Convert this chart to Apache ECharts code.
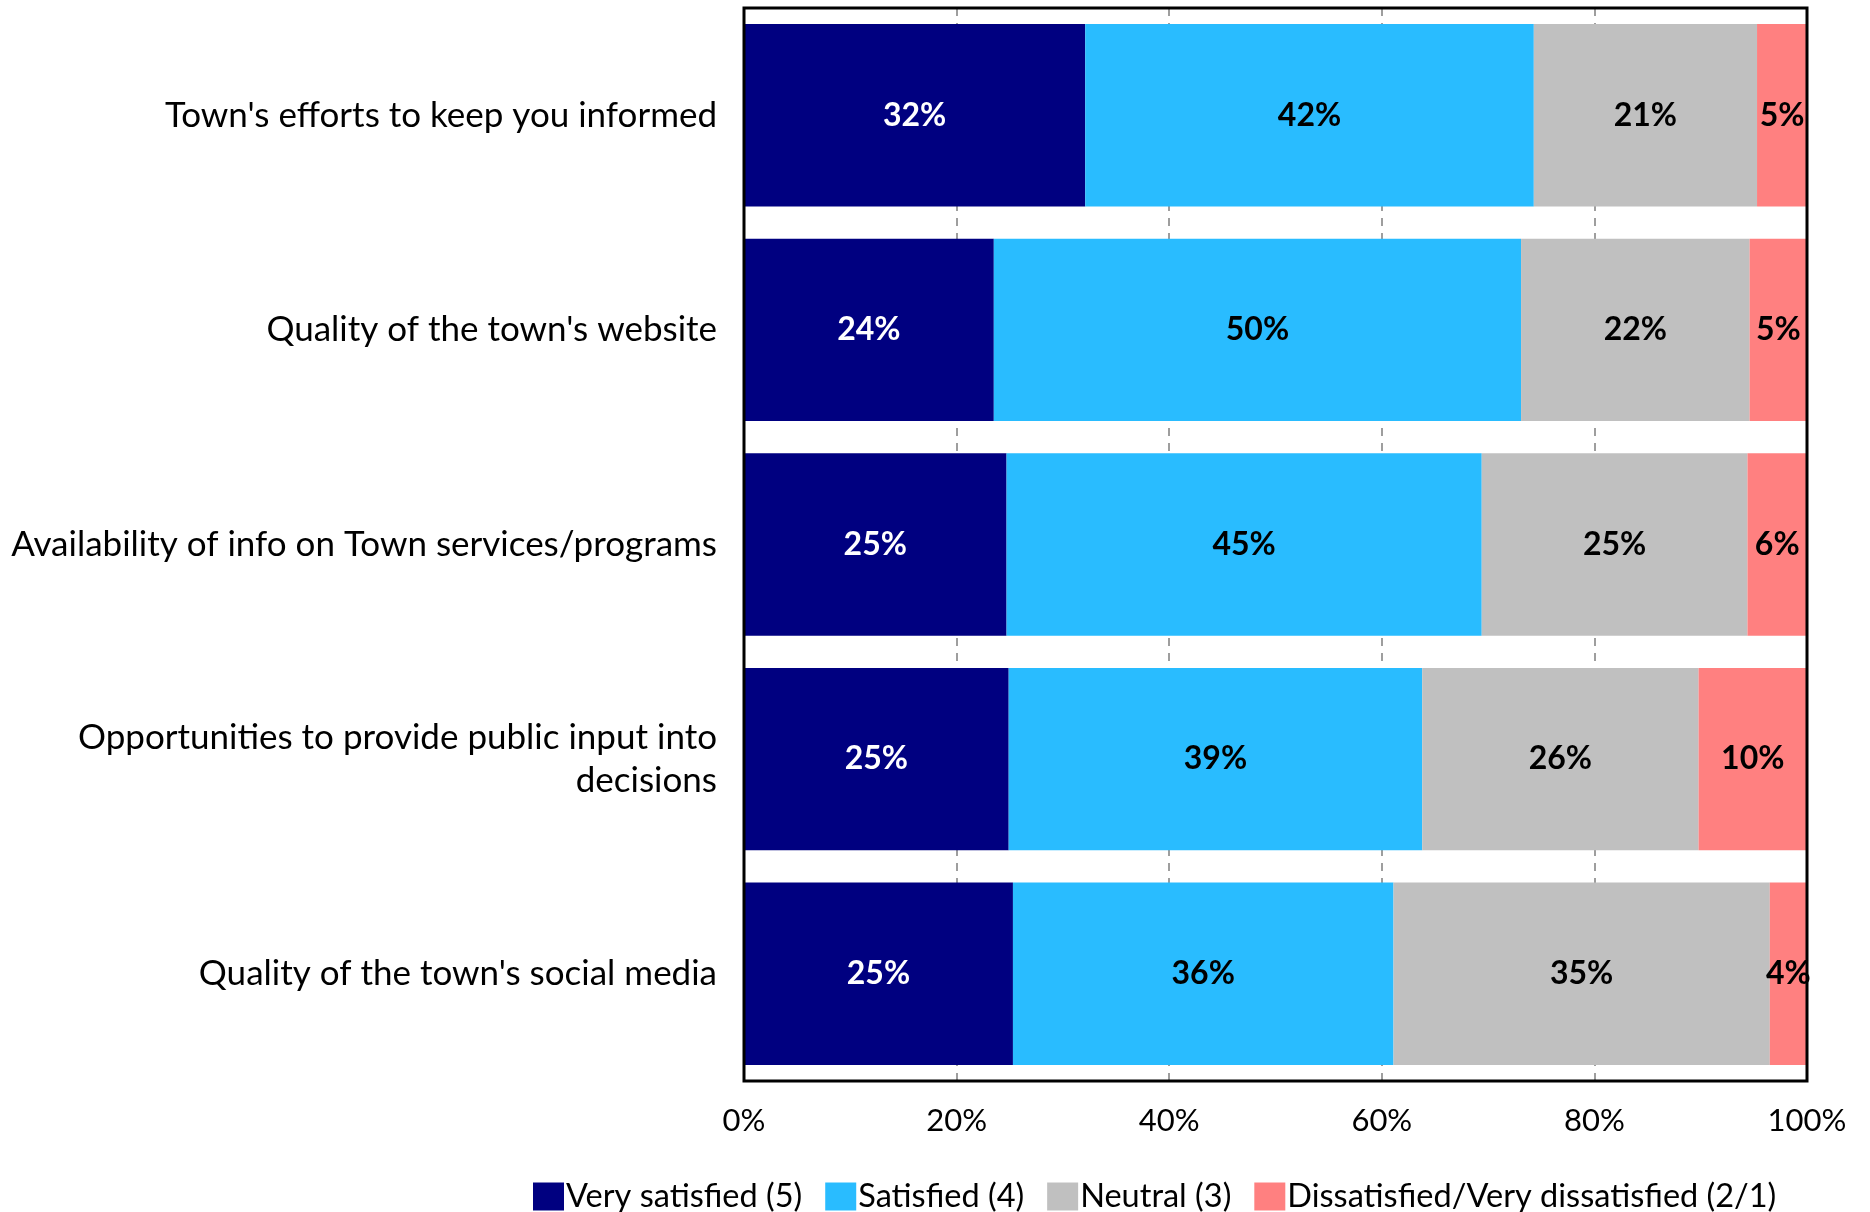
<!DOCTYPE html>
<html>
<head>
<meta charset="utf-8">
<script src="https://cdn.jsdelivr.net/npm/echarts@6/dist/echarts.min.js"></script>
<style>
  html, body { margin: 0; padding: 0; background: #fff; }
  #chart { width: 1870px; height: 1212px; }
</style>
</head>
<body>
<div id="chart"></div>
<script>
// Survey items, listed top to bottom
const categories = [
  "Town's efforts to keep you informed",
  "Quality of the town's website",
  "Availability of info on Town services/programs",
  "Opportunities to provide public input into\ndecisions",
  "Quality of the town's social media"
];

// Share of respondents (%) per rating
const verySatisfied = [32.1, 23.5, 24.7, 24.9, 25.3];
const satisfied     = [42.2, 49.6, 44.7, 38.9, 35.8];
const neutral       = [21.0, 21.5, 25.0, 26.0, 35.4];
const dissatisfied  = [4.7, 5.4, 5.6, 10.2, 3.5];

const seriesNames = [
  'Very satisfied (5)',
  'Satisfied (4)',
  'Neutral (3)',
  'Dissatisfied/Very dissatisfied (2/1)'
];

const xTicks = [0, 20, 40, 60, 80, 100];

const FONT = 'Lato, "Open Sans", sans-serif';

function makeSeries(name, data, color, labelColor) {
  return {
    name: name,
    type: 'bar',
    stack: 'total',
    data: data,
    barCategoryGap: '15%',
    itemStyle: { color: color },
    label: {
      show: true,
      position: 'inside',
      color: labelColor,
      fontFamily: FONT,
      fontWeight: 'bold',
      fontSize: 32,
      formatter: p => Math.round(p.value) + '%'
    }
  };
}

const chart = echarts.init(document.getElementById('chart'), null, { renderer: 'canvas' });

chart.setOption({
  animation: false,
  backgroundColor: '#fff',
  grid: {
    left: 744,
    right: 63,
    top: 8,
    bottom: 131,
    show: true,
    z: 10,
    backgroundColor: 'transparent',
    borderColor: '#000',
    borderWidth: 3,
    containLabel: false
  },
  xAxis: {
    type: 'value',
    min: xTicks[0],
    max: xTicks[xTicks.length - 1],
    interval: 20,
    axisLine: { show: false },
    axisTick: { show: false },
    axisLabel: {
      color: '#000',
      fontFamily: FONT,
      fontSize: 31,
      margin: 24,
      formatter: '{value}%'
    },
    splitLine: {
      show: true,
      lineStyle: { color: '#7f7f7f', width: 1.5, type: [8, 7] }
    }
  },
  yAxis: {
    type: 'category',
    data: categories,
    inverse: true,
    axisLine: { show: false },
    axisTick: { show: false },
    axisLabel: {
      color: '#000',
      fontFamily: FONT,
      fontSize: 35,
      margin: 27,
      align: 'right',
      lineHeight: 43
    },
    splitLine: { show: false }
  },
  legend: {
    left: 528,
    top: 1175,
    icon: 'rect',
    itemWidth: 31,
    itemHeight: 28,
    itemGap: 23,
    textStyle: { color: '#000', fontFamily: FONT, fontSize: 32.5, padding: [0, 0, 0, -3] },
    data: seriesNames
  },
  series: [
    makeSeries(seriesNames[0], verySatisfied, '#000080', '#fff'),
    makeSeries(seriesNames[1], satisfied, '#29BCFF', '#000'),
    makeSeries(seriesNames[2], neutral, '#C0C0C0', '#000'),
    makeSeries(seriesNames[3], dissatisfied, '#FF8080', '#000')
  ]
});
</script>
</body>
</html>
